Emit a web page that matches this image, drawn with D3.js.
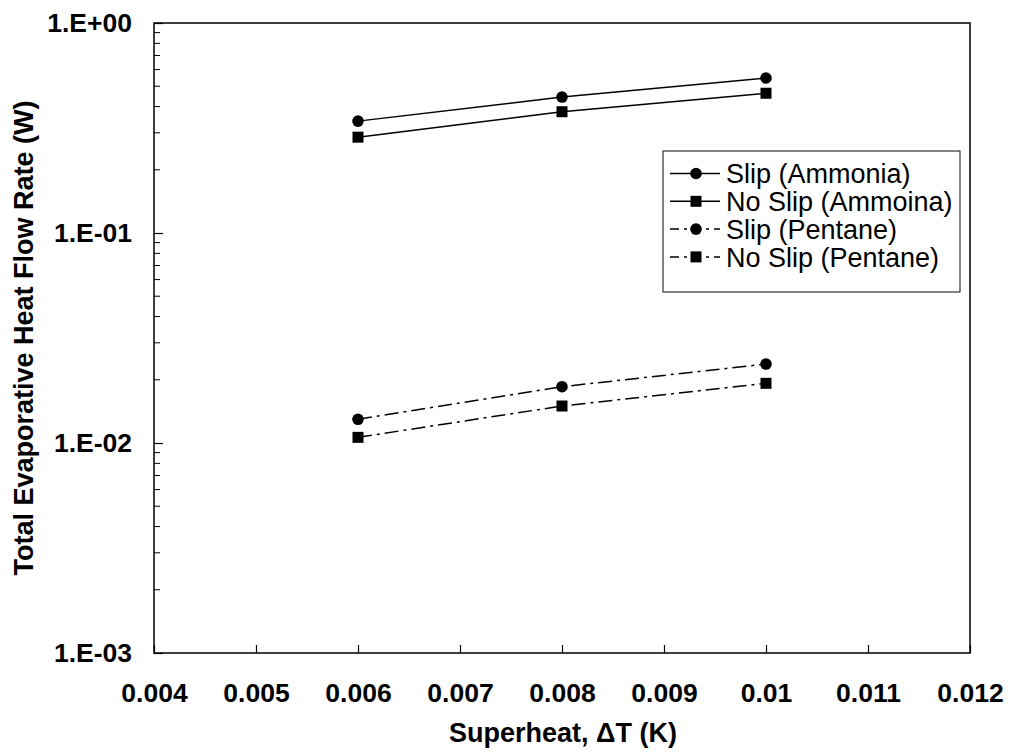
<!DOCTYPE html>
<html><head><meta charset="utf-8">
<script src="https://cdn.jsdelivr.net/npm/d3@7"></script>
<style>body{margin:0;background:#fff}svg{display:block;font-family:"Liberation Sans",Arial,sans-serif}</style>
</head><body>
<script>
const xValues = [0.006, 0.008, 0.01];
const slipAmmonia = [0.341, 0.444, 0.547];
const noSlipAmmonia = [0.286, 0.378, 0.463];
const slipPentane = [0.01297, 0.01854, 0.02377];
const noSlipPentane = [0.01064, 0.0150, 0.01924];
const seriesNames = ["Slip (Ammonia)", "No Slip (Ammoina)", "Slip (Pentane)", "No Slip (Pentane)"];
const xTicks = [0.004, 0.005, 0.006, 0.007, 0.008, 0.009, 0.01, 0.011, 0.012];
const xTickLabels = ["0.004", "0.005", "0.006", "0.007", "0.008", "0.009", "0.01", "0.011", "0.012"];
const yTicks = [1e-3, 1e-2, 1e-1, 1];
const yTickLabels = ["1.E-03", "1.E-02", "1.E-01", "1.E+00"];
const xTitle = "Superheat, \u0394T (K)";
const yTitle = "Total Evaporative Heat Flow Rate (W)";

const series = [
  {name: seriesNames[0], values: slipAmmonia, marker: "circle", dash: null},
  {name: seriesNames[1], values: noSlipAmmonia, marker: "square", dash: null},
  {name: seriesNames[2], values: slipPentane, marker: "circle", dash: "14,5,3,5"},
  {name: seriesNames[3], values: noSlipPentane, marker: "square", dash: "14,5,3,5"}
];

const W = 1009, H = 754;
const L = 154, R = 970, T = 23, B = 653;
const FS = 26.5, FT = 27;
const svg = d3.select("body").append("svg").attr("width", W).attr("height", H);
const x = d3.scaleLinear().domain([0.004, 0.012]).range([L, R]);
const y = d3.scaleLog().domain([1e-3, 1]).range([B, T]);

// minor y ticks
const minor = [];
for (let e = -3; e < 0; e++) for (let m = 2; m <= 9; m++) minor.push(m * Math.pow(10, e));
svg.append("g").selectAll("line").data(minor).join("line")
  .attr("x1", L).attr("x2", L + 6).attr("y1", d => y(d)).attr("y2", d => y(d))
  .attr("stroke", "#000").attr("stroke-width", 1);

// y axis
const yAxis = d3.axisLeft(y).tickValues(yTicks).tickSize(-9).tickPadding(22)
  .tickFormat((d, i) => yTickLabels[i]);
const gy = svg.append("g").attr("transform", `translate(${L},0)`).call(yAxis);
gy.select(".domain").remove();
gy.selectAll(".tick line").attr("stroke-width", 1.2);
gy.selectAll("text").attr("font-size", FS).attr("font-weight", "bold").attr("fill", "#000")
  .attr("font-family", "Liberation Sans, Arial, sans-serif");

// x axis
const xAxis = d3.axisBottom(x).tickValues(xTicks).tickSize(-8).tickPadding(30)
  .tickFormat((d, i) => xTickLabels[i]);
const gx = svg.append("g").attr("transform", `translate(0,${B})`).call(xAxis);
gx.select(".domain").remove();
gx.selectAll(".tick line").attr("stroke-width", 1.2);
gx.selectAll("text").attr("font-size", FS).attr("font-weight", "bold").attr("fill", "#000")
  .attr("font-family", "Liberation Sans, Arial, sans-serif");

// frame
svg.append("rect").attr("x", L).attr("y", T).attr("width", R - L).attr("height", B - T)
  .attr("fill", "none").attr("stroke", "#000").attr("stroke-width", 1.5);

// titles
svg.append("text").attr("x", 563).attr("y", 742).attr("text-anchor", "middle")
  .attr("font-size", FT).attr("font-weight", "bold").text(xTitle);
svg.append("text").attr("transform", `translate(33,338) rotate(-90)`).attr("text-anchor", "middle")
  .attr("font-size", FT).attr("font-weight", "bold").text(yTitle);

const line = d3.line().x((d, i) => x(xValues[i])).y(d => y(d));
function marker(g, type, cx, cy) {
  if (type === "circle") g.append("circle").attr("cx", cx).attr("cy", cy).attr("r", 5.8).attr("fill", "#000");
  else g.append("rect").attr("x", cx - 5.5).attr("y", cy - 5.5).attr("width", 11).attr("height", 11).attr("fill", "#000");
}
series.forEach(s => {
  const g = svg.append("g");
  g.append("path").attr("d", line(s.values)).attr("fill", "none").attr("stroke", "#000")
    .attr("stroke-width", 1.5).attr("stroke-dasharray", s.dash);
  s.values.forEach((v, i) => marker(g, s.marker, x(xValues[i]), y(v)));
});

// legend
const lg = svg.append("g");
lg.append("rect").attr("x", 663).attr("y", 151).attr("width", 297).attr("height", 141)
  .attr("fill", "#fff").attr("stroke", "#333").attr("stroke-width", 1.2);
series.forEach((s, i) => {
  const cy = 173.5 + i * 27.8;
  lg.append("line").attr("x1", 670).attr("x2", 720).attr("y1", cy).attr("y2", cy)
    .attr("stroke", "#000").attr("stroke-width", 1.5).attr("stroke-dasharray", s.dash ? "9,5,3,5" : null);
  marker(lg, s.marker, 696, cy);
  lg.append("text").attr("x", 726).attr("y", cy).attr("dy", "0.36em").attr("font-size", FT)
    .text(s.name);
});
</script>
</body></html>
